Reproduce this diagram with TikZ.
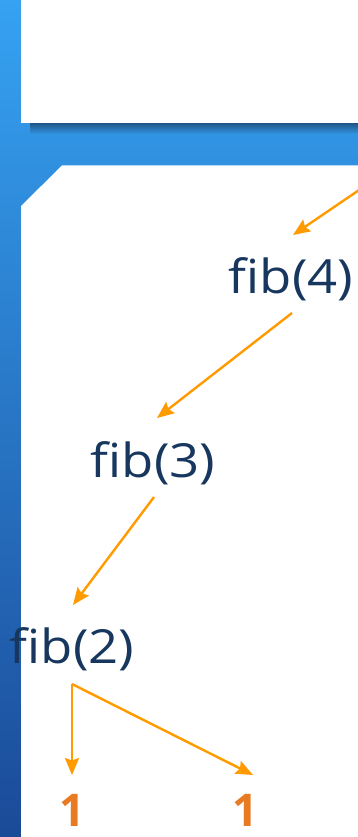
\documentclass[tikz,border=0pt]{standalone}
\usepackage{fontspec}
\setmainfont{Open Sans}
\newfontfamily\fibfont[FakeStretch=1.12]{Open Sans}
\newfontfamily\onefont{Open Sans Bold}
\usetikzlibrary{arrows.meta}
\definecolor{bgtop}{HTML}{36A2F2}
\definecolor{bgbot}{HTML}{1A4A98}
\definecolor{shadowc}{HTML}{1E5586}
\definecolor{fibtext}{HTML}{17375E}
\definecolor{arrowc}{HTML}{FF9A00}
\definecolor{onec}{HTML}{E87A22}
\tikzset{
  fibnode/.style={font=\fibfont\fontsize{47}{50}\selectfont, text=fibtext, anchor=base, inner sep=0pt},
  onenode/.style={font=\onefont\fontsize{45}{48}\selectfont, text=onec, anchor=base, inner sep=0pt},
  callarrow/.style={draw=arrowc, line width=2.4pt, -{Stealth[length=17pt,width=14pt,inset=2.5pt]}},
}
\begin{document}
\begin{tikzpicture}[x=1pt,y=-1pt]
\useasboundingbox (0,0) rectangle (357,837);
% background
\shade[top color=bgtop, bottom color=bgbot] (-3,-3) rectangle (360,840);
% shadow of top box
\shade[top color=shadowc, bottom color=bgtop!85!bgbot] (30,123) rectangle (360,134);
% top white box
\fill[white] (21,-3) rectangle (360,123);
% main panel with cut corner
\fill[white] (62,165.5) -- (360,165.5) -- (360,840) -- (21,840) -- (21,206) -- cycle;
% nodes
\node[fibnode] (fib4) at (291,293) {fib(4)};
\node[fibnode] (fib3) at (153,477) {fib(3)};
\node[fibnode] (fib2) at (72,663) {fib(2)};
\node[onenode] (oneA) at (72,826) {1};
\node[onenode] (oneB) at (245,826) {1};
% connector end points
\coordinate (s0) at (365,186);
\coordinate (t0) at (293,235);
\coordinate (s1) at (292,313);
\coordinate (t1) at (157,418);
\coordinate (s2) at (154,497);
\coordinate (t2) at (73,605);
\coordinate (s3) at (72,684);
\coordinate (t3) at (72,775);
\coordinate (t4) at (253,775);
\draw[callarrow] (s0) -- (t0);
\draw[callarrow] (s1) -- (t1);
\draw[callarrow] (s2) -- (t2);
\draw[callarrow] (s3) -- (t3);
\draw[callarrow] (s3) -- (t4);
\end{tikzpicture}
\end{document}
